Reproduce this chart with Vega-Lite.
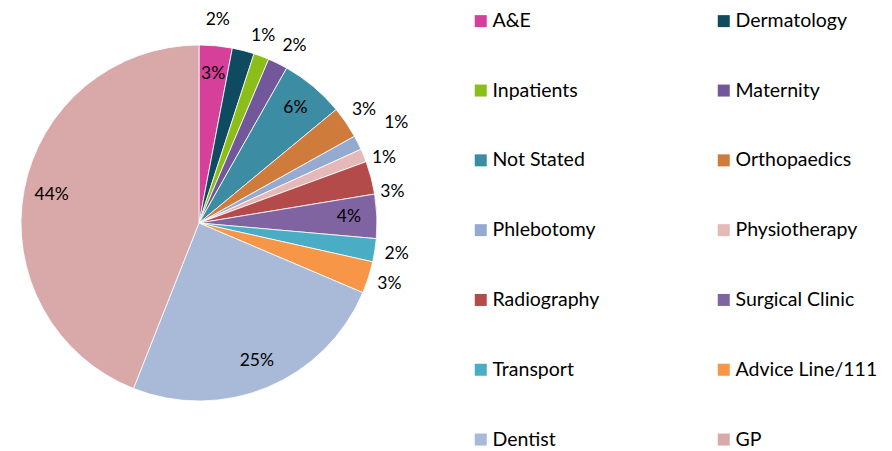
{
  "$schema": "https://vega.github.io/schema/vega-lite/v6.json",
  "width": 398,
  "height": 446,
  "padding": 0,
  "background": "white",
  "config": {"view": {"stroke": null}, "text": {"font": "Lato", "fontSize": 17.5, "color": "#000000"}},
  "data": {"values": [
    {"i": 1, "category": "A&E", "value": 3.0},
    {"i": 2, "category": "Dermatology", "value": 2.0},
    {"i": 3, "category": "Inpatients", "value": 1.4},
    {"i": 4, "category": "Maternity", "value": 1.8},
    {"i": 5, "category": "Not Stated", "value": 5.8},
    {"i": 6, "category": "Orthopaedics", "value": 2.9},
    {"i": 7, "category": "Phlebotomy", "value": 1.3},
    {"i": 8, "category": "Physiotherapy", "value": 1.2},
    {"i": 9, "category": "Radiography", "value": 3.0},
    {"i": 10, "category": "Surgical Clinic", "value": 4.0},
    {"i": 11, "category": "Transport", "value": 2.1},
    {"i": 12, "category": "Advice Line/111", "value": 2.9},
    {"i": 13, "category": "Dentist", "value": 24.6},
    {"i": 14, "category": "GP", "value": 44.0}
  ]},
  "transform": [
    {"stack": "value", "groupby": [], "sort": [{"field": "i", "order": "ascending"}], "as": ["v0", "v1"]},
    {"calculate": "(datum.v0 + datum.v1) / 2", "as": "mid"},
    {"calculate": "format(datum.value, '.0f') + '%'", "as": "label"}
  ],
  "layer": [
    {
      "mark": {"type": "arc", "radius": 178, "stroke": "white", "strokeWidth": 0.8},
      "encoding": {
        "theta": {"field": "v0", "type": "quantitative", "stack": null, "scale": {"domain": [0, 100]}},
        "theta2": {"field": "v1"},
        "color": {
          "field": "category", "type": "nominal",
          "scale": {
            "domain": ["A&E", "Inpatients", "Not Stated", "Phlebotomy", "Radiography", "Transport", "Dentist", "Dermatology", "Maternity", "Orthopaedics", "Physiotherapy", "Surgical Clinic", "Advice Line/111", "GP"],
            "range": ["#D63F9A", "#8CBE1A", "#3C8CA4", "#95AAD0", "#B44B4B", "#4BACC6", "#A9B9D8", "#0E4A60", "#72589A", "#CF7B3B", "#E6B9B9", "#8064A2", "#F79646", "#D9A9A9"]
          },
          "legend": {
            "title": null, "orient": "none", "legendX": 471, "legendY": 11, "columns": 2,
            "symbolType": "square", "symbolSize": 144, "symbolStrokeWidth": 0,
            "labelFont": "Lato", "labelFontSize": 19.5, "labelColor": "#000000", "labelOffset": 2,
            "rowPadding": 48.8, "columnPadding": 79, "gridAlign": "all", "labelLimit": 300
          }
        }
      }
    },
    {
      "transform": [{"filter": {"field": "category", "oneOf": ["A&E", "Not Stated", "Surgical Clinic", "Dentist", "GP"]}}],
      "mark": {"type": "text", "radius": 150},
      "encoding": {"theta": {"field": "mid", "type": "quantitative", "stack": null, "scale": {"domain": [0, 100]}}, "text": {"field": "label"}}
    },
    {
      "transform": [{"filter": {"field": "category", "oneOf": ["Orthopaedics", "Transport", "Advice Line/111"]}}],
      "mark": {"type": "text", "radius": 200},
      "encoding": {"theta": {"field": "mid", "type": "quantitative", "stack": null, "scale": {"domain": [0, 100]}}, "text": {"field": "label"}}
    },
    {
      "transform": [{"filter": {"field": "category", "equal": "Inpatients"}}],
      "mark": {"type": "text", "radius": 200, "dx": -6},
      "encoding": {"theta": {"field": "mid", "type": "quantitative", "stack": null, "scale": {"domain": [0, 100]}}, "text": {"field": "label"}}
    },
    {
      "transform": [{"filter": {"field": "category", "equal": "Maternity"}}],
      "mark": {"type": "text", "radius": 200, "dx": 7, "dy": 2},
      "encoding": {"theta": {"field": "mid", "type": "quantitative", "stack": null, "scale": {"domain": [0, 100]}}, "text": {"field": "label"}}
    },
    {
      "transform": [{"filter": {"field": "category", "equal": "Dermatology"}}],
      "mark": {"type": "text", "radius": 200, "dx": -31, "dy": -9},
      "encoding": {"theta": {"field": "mid", "type": "quantitative", "stack": null, "scale": {"domain": [0, 100]}}, "text": {"field": "label"}}
    },
    {
      "transform": [{"filter": {"field": "category", "equal": "Phlebotomy"}}],
      "mark": {"type": "text", "radius": 221},
      "encoding": {"theta": {"field": "mid", "type": "quantitative", "stack": null, "scale": {"domain": [0, 100]}}, "text": {"field": "label"}}
    },
    {
      "transform": [{"filter": {"field": "category", "equal": "Physiotherapy"}}],
      "mark": {"type": "text", "radius": 200, "dy": 11},
      "encoding": {"theta": {"field": "mid", "type": "quantitative", "stack": null, "scale": {"domain": [0, 100]}}, "text": {"field": "label"}}
    },
    {
      "transform": [{"filter": {"field": "category", "equal": "Radiography"}}],
      "mark": {"type": "text", "radius": 200, "dy": 20},
      "encoding": {"theta": {"field": "mid", "type": "quantitative", "stack": null, "scale": {"domain": [0, 100]}}, "text": {"field": "label"}}
    }
  ]
}
